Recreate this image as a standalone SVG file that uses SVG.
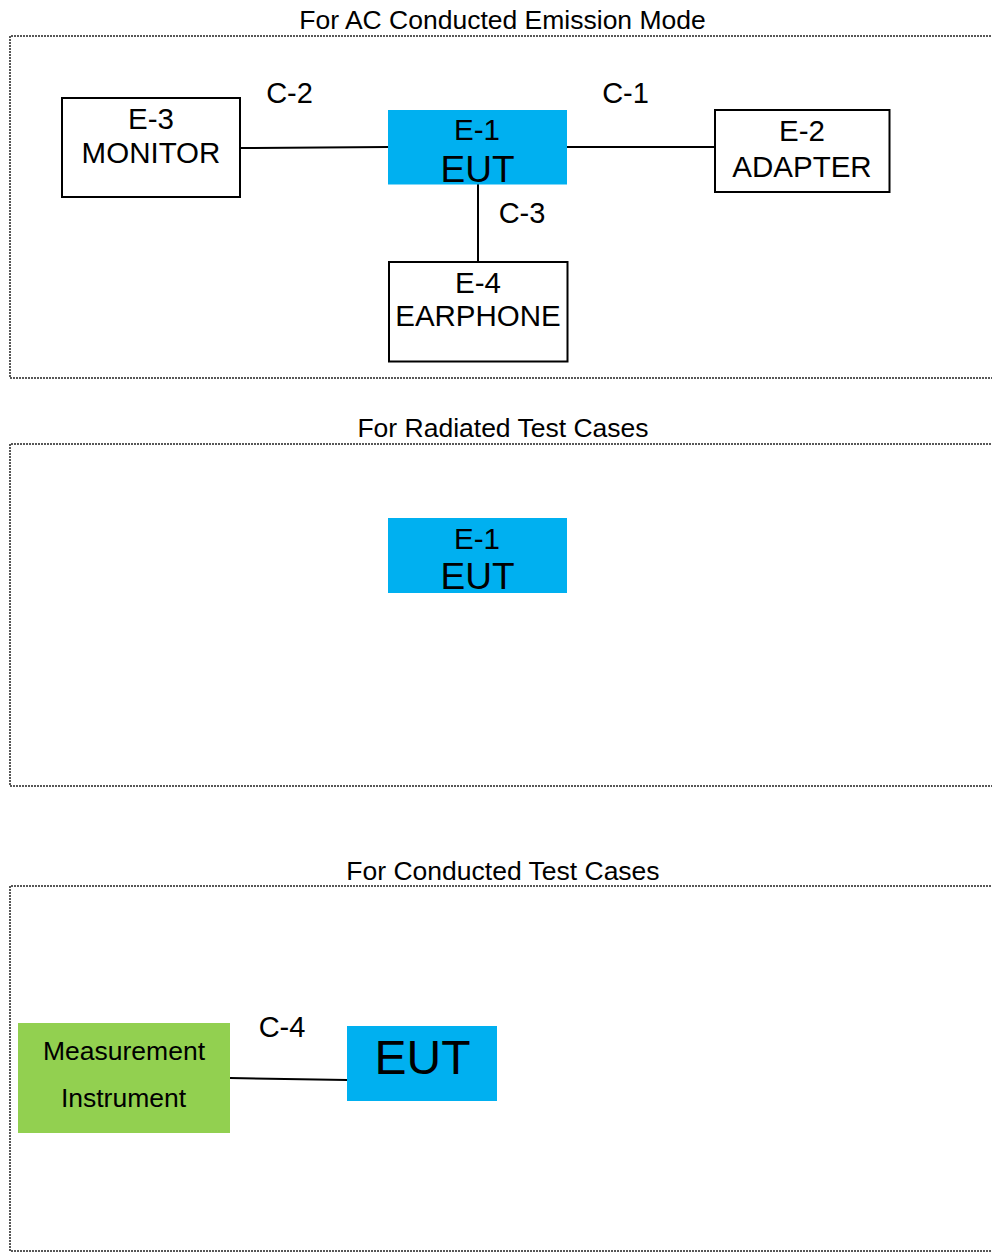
<svg xmlns="http://www.w3.org/2000/svg" width="992" height="1253" viewBox="0 0 992 1253">
<style>
text{font-family:"Liberation Sans",Arial,sans-serif;fill:#000;text-anchor:middle}
.t{font-size:26.5px}
.l{font-size:29.5px}
.c{font-size:29px}
.frame{fill:none;stroke:#222;stroke-width:1.5;stroke-dasharray:2 1}
.box{fill:#fff;stroke:#000;stroke-width:2}
.eut{fill:#00B0F0}
.meas{fill:#92D050}
.wire{stroke:#000;stroke-width:2;fill:none}
</style>
<rect width="992" height="1253" fill="#fff"/>
<g id="frames">
<path class="frame" d="M1000 36H10V378H1000"/>
<path class="frame" d="M1000 444H10V786H1000"/>
<path class="frame" d="M1000 886H10V1251H1000"/>
<text class="t" x="502.5" y="29">For AC Conducted Emission Mode</text>
<text class="t" x="503" y="437">For Radiated Test Cases</text>
<text class="t" x="503" y="879.5">For Conducted Test Cases</text>
</g>
<g id="connectors">
<line class="wire" x1="241" y1="148" x2="388" y2="147"/>
<line class="wire" x1="567" y1="147" x2="715" y2="147"/>
<line class="wire" x1="478" y1="184" x2="478" y2="262"/>
<line class="wire" x1="230" y1="1078" x2="347" y2="1080"/>
<text class="c" x="289.5" y="103">C-2</text>
<text class="c" x="625.5" y="103">C-1</text>
<text class="c" x="522" y="223">C-3</text>
<text class="c" x="282" y="1037">C-4</text>
</g>
<g id="E-3">
<rect class="box" x="62" y="98" width="178" height="99"/>
<text class="l" x="151" y="129">E-3</text>
<text class="l" x="151" y="162.5">MONITOR</text>
</g>
<g id="E-1">
<rect class="eut" x="388" y="110" width="179" height="74.5"/>
<text class="l" x="477" y="140">E-1</text>
<text x="477.5" y="182" font-size="37">EUT</text>
</g>
<g id="E-2">
<rect class="box" x="715" y="110" width="174.5" height="82"/>
<text class="l" x="802" y="141">E-2</text>
<text class="l" x="802" y="176.5">ADAPTER</text>
</g>
<g id="E-4">
<rect class="box" x="389" y="262" width="178.5" height="99.5"/>
<text class="l" x="478" y="293">E-4</text>
<text class="l" x="478" y="326">EARPHONE</text>
</g>
<g id="E-1-radiated">
<rect class="eut" x="388" y="518" width="179" height="75"/>
<text class="l" x="477" y="549">E-1</text>
<text x="477.5" y="589" font-size="37">EUT</text>
</g>
<g id="measurement">
<rect class="meas" x="18" y="1023" width="212" height="110"/>
<text class="t" x="124" y="1060">Measurement</text>
<text class="t" x="123.5" y="1107">Instrument</text>
</g>
<g id="EUT-conducted">
<rect class="eut" x="347" y="1026" width="150" height="75"/>
<text x="422.5" y="1074" font-size="48">EUT</text>
</g>
</svg>
